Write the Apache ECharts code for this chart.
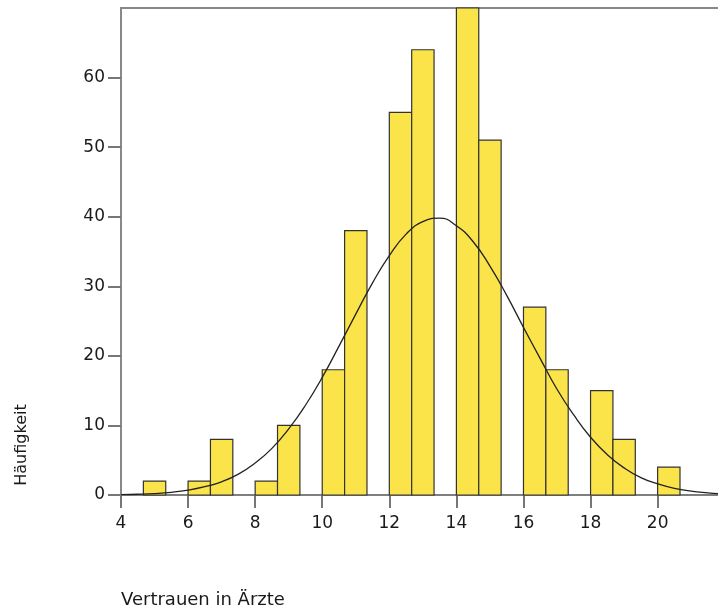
<!DOCTYPE html>
<html>
<head>
<meta charset="utf-8">
<script src="https://cdn.jsdelivr.net/npm/echarts@6/dist/echarts.min.js"></script>
<style>
  html, body { margin: 0; padding: 0; background: #fff; }
  #chart { width: 718px; height: 614px; }
</style>
</head>
<body>
<div id="chart"></div>
<script>
// histogram bins (lower edge) and counts
var binStart = [4.667, 6.0, 6.667, 8.0, 8.667, 10.0, 10.667, 12.0, 12.667, 14.0, 14.667, 16.0, 16.667, 18.0, 18.667, 20.0];
var binWidth = 0.667;
var counts = [2, 2, 8, 2, 10, 18, 38, 55, 64, 70, 51, 27, 18, 15, 8, 4];

// normal curve
var curveX = [4, 4.5, 5, 5.5, 6, 6.5, 7, 7.5, 8, 8.5, 9, 9.5, 10, 10.5, 11, 11.5, 12, 12.5, 13, 13.5, 14, 14.5, 15, 15.5, 16, 16.5, 17, 17.5, 18, 18.5, 19, 19.5, 20, 20.5, 21, 21.5, 21.8];
var curveY = [0.06, 0.11, 0.21, 0.39, 0.7, 1.2, 1.9, 3.0, 4.6, 6.7, 9.5, 12.9, 16.9, 21.4, 26.0, 30.5, 34.4, 37.5, 39.3, 39.8, 38.7, 36.4, 32.9, 28.7, 24.1, 19.6, 15.2, 11.5, 8.3, 5.8, 3.9, 2.5, 1.6, 0.95, 0.55, 0.31, 0.21];

var xTicks = [4, 6, 8, 10, 12, 14, 16, 18, 20];
var yTicks = [0, 10, 20, 30, 40, 50, 60];

var font = 'DejaVu Sans';

var chart = echarts.init(document.getElementById('chart'));

var barData = [];
for (var i = 0; i < counts.length; i++) {
    barData.push([binStart[i], binStart[i] + binWidth, counts[i]]);
}
var lineData = [];
for (var j = 0; j < curveX.length; j++) {
    lineData.push([curveX[j], curveY[j]]);
}

var option = {
    animation: false,
    backgroundColor: '#fff',
    grid: { left: 121, top: 8, right: 0, bottom: 119 },
    xAxis: [{
        type: 'value',
        min: 4,
        max: 21.8,
        axisLine: { show: true, lineStyle: { color: '#555', width: 1.5 } },
        axisTick: { show: true, length: 13, customValues: xTicks, lineStyle: { color: '#777', width: 2 } },
        axisLabel: {
            color: '#1a1a1a', fontFamily: font, fontSize: 17, margin: 20,
            customValues: xTicks
        },
        splitLine: { show: false }
    }, {
        type: 'value',
        position: 'top',
        min: 4,
        max: 21.8,
        axisLine: { show: true, lineStyle: { color: '#888', width: 2 } },
        axisTick: { show: false },
        axisLabel: { show: false },
        splitLine: { show: false }
    }],
    yAxis: {
        type: 'value',
        min: 0,
        max: 70,
        axisLine: { show: true, lineStyle: { color: '#888', width: 2 } },
        axisTick: { show: true, length: 13, customValues: yTicks, lineStyle: { color: '#777', width: 2 } },
        axisLabel: {
            color: '#1a1a1a', fontFamily: font, fontSize: 17, margin: 16,
            customValues: yTicks
        },
        splitLine: { show: false }
    },
    series: [{
        type: 'custom',
        data: barData,
        encode: { x: [0, 1], y: 2 },
        renderItem: function (params, api) {
            var p0 = api.coord([api.value(0), api.value(2)]);
            var p1 = api.coord([api.value(1), 0]);
            return {
                type: 'rect',
                shape: { x: p0[0], y: p0[1], width: p1[0] - p0[0], height: p1[1] - p0[1] },
                style: { fill: '#FBE44A', stroke: '#333', lineWidth: 1.2 }
            };
        },
        z: 2
    }, {
        type: 'line',
        data: lineData,
        smooth: true,
        showSymbol: false,
        lineStyle: { color: '#222', width: 1.3 },
        z: 3
    }],
    graphic: [{
        type: 'text',
        x: 22,
        y: 445,
        rotation: Math.PI / 2,
        style: {
            text: 'Häufigkeit',
            fill: '#1a1a1a',
            font: '16px "DejaVu Sans"',
            align: 'center',
            verticalAlign: 'middle'
        }
    }, {
        type: 'text',
        left: 121,
        top: 591,
        style: {
            text: 'Vertrauen in Ärzte',
            fill: '#1a1a1a',
            font: '18px "DejaVu Sans"'
        }
    }]
};

chart.setOption(option);
</script>
</body>
</html>
